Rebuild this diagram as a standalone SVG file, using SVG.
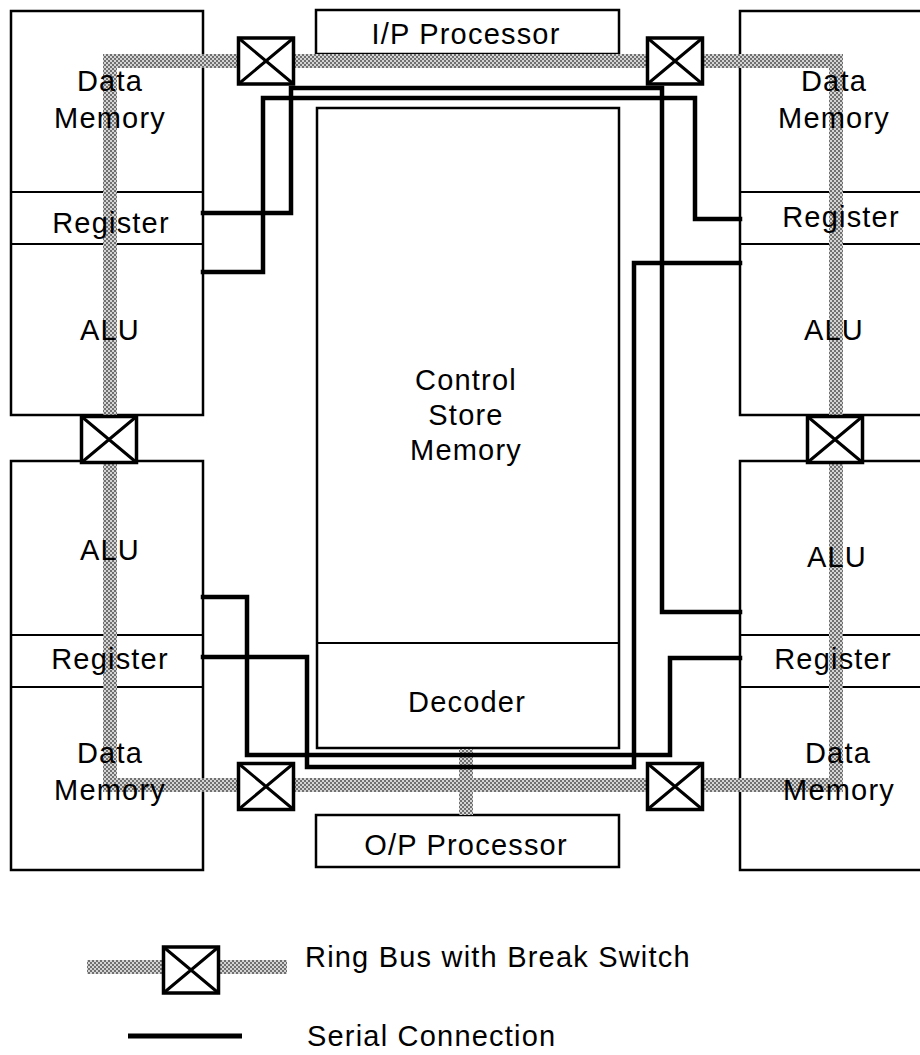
<svg xmlns="http://www.w3.org/2000/svg" width="920" height="1055" viewBox="0 0 920 1055">
<defs>
<pattern id="dither" width="4" height="4" patternUnits="userSpaceOnUse">
<rect width="4" height="4" fill="#d4d4d4"/>
<rect width="2" height="2" fill="#707070"/>
<rect x="2" y="2" width="2" height="2" fill="#707070"/>
</pattern>
<g id="sw">
<rect x="-27.5" y="-23" width="55" height="46" fill="#fff" stroke="#000" stroke-width="3.5"/>
<path d="M-27.5,-23 L27.5,23 M27.5,-23 L-27.5,23" stroke="#000" stroke-width="3"/>
</g>
</defs>
<style>
.box{fill:#fff;stroke:#000;stroke-width:2.5}
.div{stroke:#000;stroke-width:2.2;fill:none}
.bus{fill:none;stroke:url(#dither);stroke-width:14}
.ser{fill:none;stroke:#000;stroke-width:4.5;stroke-linejoin:miter;stroke-linecap:square}
text{font-family:"Liberation Sans",Arial,sans-serif;font-size:29px;letter-spacing:1.2px;fill:#000;text-anchor:middle}
.lg{text-anchor:start}
</style>
<rect width="920" height="1055" fill="#fff"/>

<!-- PE boxes -->
<g id="pe-left-top">
<rect class="box" x="11" y="11" width="192" height="404"/>
<path class="div" d="M11,192 H203 M11,244 H203"/>
</g>
<g id="pe-left-bottom">
<rect class="box" x="11" y="461" width="192" height="409"/>
<path class="div" d="M11,635 H203 M11,687 H203"/>
</g>
<g id="pe-right-top">
<rect class="box" x="740" y="11" width="200" height="404"/>
<path class="div" d="M740,192 H940 M740,244 H940"/>
</g>
<g id="pe-right-bottom">
<rect class="box" x="740" y="461" width="200" height="409"/>
<path class="div" d="M740,635 H940 M740,687 H940"/>
</g>

<g id="io-processors">
<rect id="ip" class="box" x="316" y="10" width="303" height="44"/>
<rect id="op" class="box" x="316" y="815" width="303" height="52"/>
</g>

<g id="control-store">
<rect class="box" x="317" y="108" width="302" height="640"/>
<path class="div" d="M317,643 H619"/>
</g>

<!-- connectors -->
<g id="connectors">
<path class="bus" d="M110,785 V61 H836 V785 Z"/>
<path class="bus" d="M466,749 V815"/>
<path class="ser" d="M203,213 H291 V88 H662 V612 H740"/>
<path class="ser" d="M203,272 H263 V98 H695 V219 H740"/>
<path class="ser" d="M740,263 H634 V767 H307 V657 H203"/>
<path class="ser" d="M203,597 H247 V755 H670 V658 H740"/>
</g>

<g id="switches">
<use href="#sw" x="266" y="61"/>
<use href="#sw" x="675" y="61"/>
<use href="#sw" x="109" y="439.5" transform="translate(0,0)"/>
<use href="#sw" x="835" y="439.5"/>
<use href="#sw" x="266" y="786.5"/>
<use href="#sw" x="675" y="786.5"/>
</g>

<g id="labels">
<text x="110" y="91">Data</text>
<text x="110" y="128">Memory</text>
<text x="111" y="233">Register</text>
<text x="110" y="340">ALU</text>
<text x="110" y="560">ALU</text>
<text x="110" y="669">Register</text>
<text x="110" y="763">Data</text>
<text x="110" y="800">Memory</text>

<text x="834" y="91">Data</text>
<text x="834" y="128">Memory</text>
<text x="841" y="227">Register</text>
<text x="834" y="340">ALU</text>
<text x="837" y="567">ALU</text>
<text x="833" y="669">Register</text>
<text x="838" y="763">Data</text>
<text x="839" y="800">Memory</text>

<text x="466" y="44">I/P Processor</text>
<text x="466" y="390">Control</text>
<text x="466" y="425">Store</text>
<text x="466" y="460">Memory</text>
<text x="467" y="712">Decoder</text>
<text x="466" y="855">O/P Processor</text>
</g>

<g id="legend">
<path class="bus" d="M87,967 H163 M219,967 H287"/>
<use href="#sw" x="191" y="970"/>
<path d="M128,1036 H242" stroke="#000" stroke-width="5"/>
<text class="lg" x="305" y="967">Ring Bus with Break Switch</text>
<text class="lg" x="307" y="1046">Serial Connection</text>
</g>
</svg>
